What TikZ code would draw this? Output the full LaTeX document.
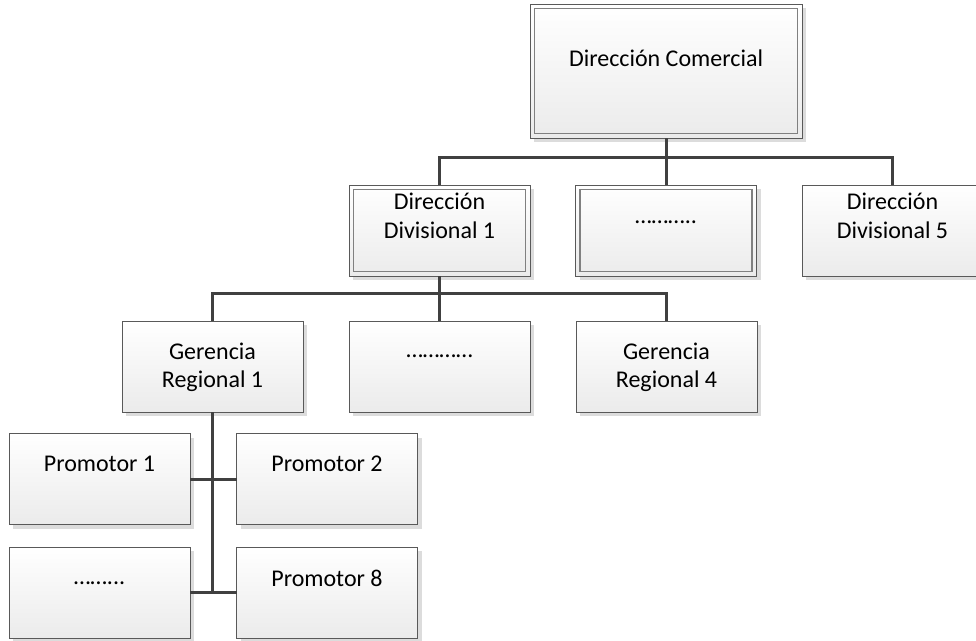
\documentclass[tikz,border=0pt]{standalone}
\usepackage{fontspec}
\setmainfont{Carlito}
\usetikzlibrary{shadows}
\definecolor{edgecol}{HTML}{595959}
\definecolor{inedgecol}{HTML}{808080}
\definecolor{conncol}{HTML}{404040}
\definecolor{shadecol}{HTML}{DCDCDC}
\definecolor{fillbot}{HTML}{EBEBEB}
\begin{document}
\begin{tikzpicture}[x=1pt,y=-1pt,
  box/.style={draw=edgecol, line width=1pt, top color=white, bottom color=fillbot,
    minimum width=181pt, minimum height=91pt, inner sep=0pt, outer sep=0pt,
    general shadow={fill=shadecol, shadow xshift=4pt, shadow yshift=-4pt}},
  txt/.style={align=center, font=\fontsize{24}{28.5}\selectfont, inner sep=0pt, outer sep=0pt, text=black},
  link/.style={draw=conncol, line width=3pt, line join=miter},
  innerbox/.style={draw=inedgecol, line width=1.2pt}]
\useasboundingbox (0,0) rectangle (976,640);

% boxes
\node[box, minimum width=272pt, minimum height=134pt] (dc) at (666,71) {};
\node[box] (d1) at (439.5,230.5) {};
\node[box] (dm) at (666,230.5) {};
\node[box] (d5) at (892.5,230.5) {};
\node[box] (g1) at (212.5,366.5) {};
\node[box] (gm) at (439.5,366.5) {};
\node[box] (g4) at (666.5,366.5) {};
\node[box] (p1) at (99.5,479) {};
\node[box] (p2) at (327,479) {};
\node[box] (p5) at (99.5,592.5) {};
\node[box] (p8) at (327,592.5) {};

% inner borders of double boxes
\draw[innerbox] ([shift={(4.5pt,-4.5pt)}]dc.north west) rectangle ([shift={(-4.5pt,4.5pt)}]dc.south east);
\draw[innerbox] ([shift={(4.5pt,-4.5pt)}]d1.north west) rectangle ([shift={(-4.5pt,4.5pt)}]d1.south east);
\draw[innerbox] ([shift={(4.5pt,-4.5pt)}]dm.north west) rectangle ([shift={(-4.5pt,4.5pt)}]dm.south east);

% texts
\node[txt] (dct) at (666,58) {Dirección Comercial};
\node[txt] (d1t) at (439.5,216) {Dirección\\Divisional 1};
\node[txt] (dmt) at (666,222) {………..};
\node[txt] (d5t) at (892.5,216) {Dirección\\Divisional 5};
\node[txt] (g1t) at (212.5,367.5) {Gerencia\\Regional 1};
\node[txt] (gmt) at (439.5,356) {…………};
\node[txt] (g4t) at (666.5,367.5) {Gerencia\\Regional 4};
\node[txt] (p1t) at (99.5,464) {Promotor 1};
\node[txt] (p2t) at (327,464) {Promotor 2};
\node[txt] (p5t) at (99.5,583) {……...};
\node[txt] (p8t) at (327,578) {Promotor 8};

% connectors
\draw[link] (d1.north) -- ++(0,-28) -| (d5.north);
\draw[link] (dc.south) -- (dm.north);
\draw[link] (g1.north) -- ++(0,-28) -| (g4.north);
\draw[link] (d1.south) -- (gm.north);
\draw[link] (g1.south) -- (g1.south |- p8.west);
\draw[link] (p1.east) -- (p2.west);
\draw[link] (p5.east) -- (p8.west);
\end{tikzpicture}
\end{document}
